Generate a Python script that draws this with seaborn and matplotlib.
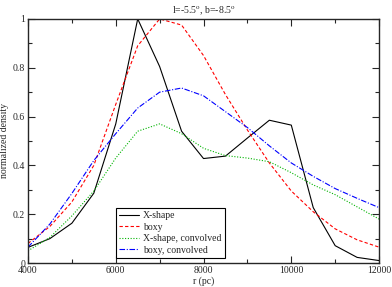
import numpy as np
import pandas as pd
import seaborn as sns
import matplotlib.pyplot as plt
from matplotlib.ticker import MultipleLocator

r = [4000, 4500, 5000, 5500, 6000, 6500, 7000, 7500, 8000,
     8500, 9000, 9500, 10000, 10500, 11000, 11500, 12000]
xshape = [0.064, 0.10, 0.163, 0.286, 0.57, 1.0, 0.805, 0.54, 0.428,
          0.438, 0.512, 0.585, 0.565, 0.227, 0.071, 0.023, 0.01]
boxy = [0.08, 0.15, 0.25, 0.40, 0.65, 0.89, 1.0, 0.975, 0.85,
        0.69, 0.545, 0.41, 0.295, 0.21, 0.14, 0.095, 0.065]
xshape_conv = [0.05, 0.105, 0.193, 0.295, 0.43, 0.54, 0.57, 0.53, 0.47,
               0.44, 0.43, 0.415, 0.37, 0.32, 0.28, 0.23, 0.18]
boxy_conv = [0.065, 0.16, 0.285, 0.42, 0.53, 0.635, 0.70, 0.717, 0.685,
             0.62, 0.555, 0.48, 0.41, 0.355, 0.305, 0.265, 0.227]

labels = ["X-shape", "boxy", "X-shape, convolved", "boxy, convolved"]
series = [xshape, boxy, xshape_conv, boxy_conv]
colors = ["black", "red", "#00b400", "blue"]
styles = ["-", (0, (3, 2)), (0, (1, 1.5)), (0, (5, 1.5, 1, 1.5))]

sns.set_style("ticks")
plt.rcParams['font.family'] = ['Liberation Serif', 'DejaVu Serif']
plt.rcParams['mathtext.fontset'] = 'stix'

fig = plt.figure(figsize=(3.92, 2.87), dpi=100)
ax = fig.add_axes([0.0714, 0.0836, 0.8956, 0.8504])

df = pd.DataFrame({"r": r})
for lab, vals, c, ls in zip(labels, series, colors, styles):
    df[lab] = vals
    sns.lineplot(x="r", y=lab, data=df, ax=ax, color=c, lw=0.8,
                 linestyle=ls, label=lab)

ax.set_xlim(4000, 12000)
ax.set_ylim(0, 1)
ax.xaxis.set_major_locator(MultipleLocator(2000))
ax.xaxis.set_minor_locator(MultipleLocator(1000))
ax.yaxis.set_major_locator(MultipleLocator(0.2))
ax.yaxis.set_minor_locator(MultipleLocator(0.1))
ax.set_yticks([0, 0.2, 0.4, 0.6, 0.8, 1.0])
ax.set_yticklabels(["0", "0.2", "0.4", "0.6", "0.8", "1"])
ax.tick_params(which="both", direction="in", top=True, right=True,
               labelsize=7, pad=2, width=0.8)
ax.tick_params(which="major", length=5)
ax.tick_params(which="minor", length=3)
for s in ax.spines.values():
    s.set_linewidth(1.0)

ax.set_xlabel("r (pc)", fontsize=7, labelpad=1)
ax.set_ylabel("normalized density", fontsize=7, labelpad=3)
ax.set_title(r"l=-5.5$^{\rm o}$, b=-8.5$^{\rm o}$", fontsize=7, pad=4)

leg = ax.legend(loc="lower left", bbox_to_anchor=(0.2507, 0.02),
                fontsize=7, frameon=True, fancybox=False, edgecolor="black",
                framealpha=1, handlelength=2.0, borderpad=0.35,
                labelspacing=0.25, handletextpad=0.4, borderaxespad=0)
leg.get_frame().set_linewidth(0.8)

fig.savefig("out.png", dpi=100)
